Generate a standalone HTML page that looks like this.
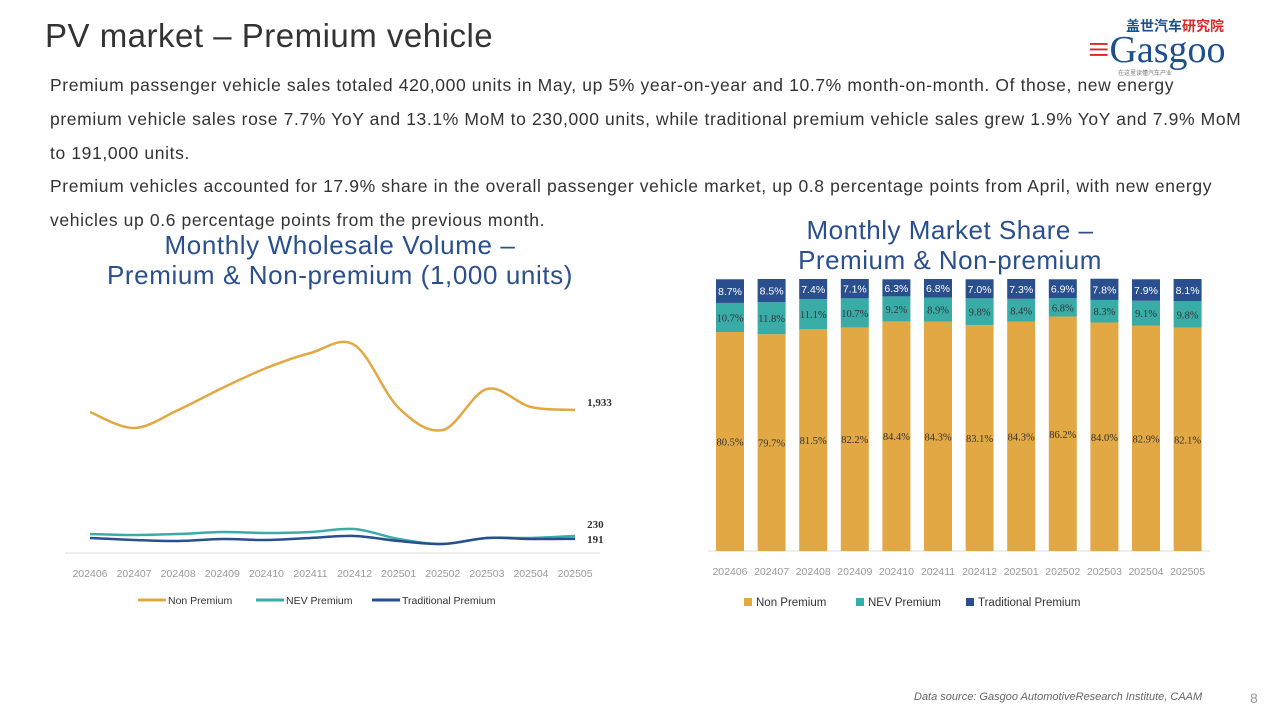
<!DOCTYPE html>
<html><head><meta charset="utf-8"><style>
body{margin:0;width:1280px;height:720px;background:#fff;font-family:"Liberation Sans","Noto Sans CJK SC",sans-serif;position:relative;overflow:hidden}
.abs{position:absolute}
</style></head><body>
<div class="abs" style="left:45px;top:17px;font-size:33px;color:#333;letter-spacing:0.5px">PV market – Premium vehicle</div>
<div class="abs" style="left:1088px;top:14px;width:150px;height:62px">
<div class="abs" style="left:38px;top:2px;font-size:14px;font-weight:bold;color:#1f4e8f">盖世汽车<span style="color:#d62a2a">研究院</span></div>
<div class="abs" style="left:0;top:14px;font-size:38px;color:#1f4e8f;font-family:'Liberation Serif',serif"><span style="color:#d62a2a">≡</span>Gasgoo</div>
<div class="abs" style="left:30px;top:54px;font-size:6px;color:#777">在这里读懂汽车产业</div>
</div>
<div class="abs" style="left:50px;top:69px;white-space:nowrap;font-size:17.5px;letter-spacing:0.62px;line-height:33.8px;color:#333">Premium passenger vehicle sales totaled 420,000 units in May, up 5% year-on-year and 10.7% month-on-month. Of those, new energy<br>premium vehicle sales rose 7.7% YoY and 13.1% MoM to 230,000 units, while traditional premium vehicle sales grew 1.9% YoY and 7.9% MoM<br>to 191,000 units.<br>Premium vehicles accounted for 17.9% share in the overall passenger vehicle market, up 0.8 percentage points from April, with new energy<br>vehicles up 0.6 percentage points from the previous month.</div>
<div class="abs" style="left:40px;top:230px;width:600px;text-align:center;font-size:26px;letter-spacing:0.6px;line-height:30px;color:#2a4f8f">Monthly Wholesale Volume –<br>Premium &amp; Non-premium (1,000 units)</div>
<div class="abs" style="left:700px;top:215px;width:500px;text-align:center;font-size:26px;letter-spacing:0.5px;line-height:30px;color:#2a4f8f">Monthly Market Share –<br>Premium &amp; Non-premium</div>
<svg id="chart" class="abs" style="left:0;top:0" width="1280" height="720"></svg>
<div class="abs" style="left:914px;top:691px;font-size:11px;font-style:italic;color:#666">Data source: Gasgoo AutomotiveResearch Institute, CAAM</div>
<div class="abs" style="left:1250px;top:690px;font-size:14px;color:#999">8</div>
<script>
const months=["202406","202407","202408","202409","202410","202411","202412","202501","202502","202503","202504","202505"];
const nonPremium=[1905,1689,1932,2230,2500,2703,2810,1960,1662,2216,1973,1933];
const nevPremium=[257,243,257,284,270,284,324,189,122,203,203,230];
const tradPremium=[203,176,162,189,176,203,230,162,122,203,189,191];
const shareNon=[80.5,79.7,81.5,82.2,84.4,84.3,83.1,84.3,86.2,84.0,82.9,82.1];
const shareNev=[10.7,11.8,11.1,10.7,9.2,8.9,9.8,8.4,6.8,8.3,9.1,9.8];
const shareTrad=[8.7,8.5,7.4,7.1,6.3,6.8,7.0,7.3,6.9,7.8,7.9,8.1];
const NS="http://www.w3.org/2000/svg",svg=document.getElementById('chart');
function mk(t,a,txt){const e=document.createElementNS(NS,t);for(const k in a)e.setAttribute(k,a[k]);if(txt!=null)e.textContent=txt;svg.appendChild(e);return e;}
const lx=i=>90+i*44.1, ly=v=>553-v*0.074;
let e=mk('line',{x1:65,x2:600,y1:553,y2:553,stroke:'#ddd'});

function smooth(vals){const p=vals.map((v,i)=>[lx(i),ly(v)]);let d='M'+p[0];for(let i=0;i<p.length-1;i++){const p0=p[i-1]||p[i],p1=p[i],p2=p[i+1],p3=p[i+2]||p2;d+=` C${p1[0]+(p2[0]-p0[0])/6},${p1[1]+(p2[1]-p0[1])/6} ${p2[0]-(p3[0]-p1[0])/6},${p2[1]-(p3[1]-p1[1])/6} ${p2[0]},${p2[1]}`;}return d;}
const series=[[nonPremium,'#e1a844','non-premium-line'],[nevPremium,'#3aaca8','nev-premium-line'],[tradPremium,'#2a4f8f','traditional-premium-line']];
series.forEach(s=>{e=mk('path',{d:smooth(s[0]),fill:'none',stroke:s[1],'stroke-width':2.5});});
[[nonPremium,-4,'label-non-premium-last'],[nevPremium,-8,'label-nev-last'],[tradPremium,4,'label-trad-last']].forEach(s=>{const v=s[0][11];e=mk('text',{x:lx(11)+12,y:ly(v)+s[1],'font-size':11,'font-weight':'bold','font-family':'Liberation Serif',fill:'#333'},v.toLocaleString('en-US'));});
months.forEach((m,i)=>{e=mk('text',{x:lx(i),y:577,'font-size':10.5,fill:'#999','text-anchor':'middle'},m);});
[['Non Premium','#e1a844',138],['NEV Premium','#3aaca8',256],['Traditional Premium','#2a4f8f',372]].forEach(l=>{e=mk('line',{x1:l[2],x2:l[2]+28,y1:600,y2:600,stroke:l[1],'stroke-width':3});e=mk('text',{x:l[2]+30,y:604,'font-size':10.5,fill:'#333'},l[0]);});
const bx=i=>730+i*41.6, bh=v=>v*2.72, base=551, bw=28;
e=mk('line',{x1:708,x2:1210,y1:551,y2:551,stroke:'#ddd'});

months.forEach((m,i)=>{let y=base;[[shareNon,'#e1a844','#333','bar-non-premium'],[shareNev,'#3aaca8','#333','bar-nev-premium'],[shareTrad,'#2a4f8f','#fff','bar-traditional-premium']].forEach((s,k)=>{const h=bh(s[0][i]);y-=h;e=mk('rect',{x:bx(i)-bw/2,y:y,width:bw,height:h,fill:s[1]});e=mk('text',{x:bx(i),y:y+h/2+4,'font-size':10.5,fill:s[2],'text-anchor':'middle','font-family':k==2?'Liberation Sans':'Liberation Serif'},s[0][i].toFixed(1)+'%');});
e=mk('text',{x:bx(i),y:575,'font-size':10.5,fill:'#999','text-anchor':'middle'},m);});
[['Non Premium','#e1a844',744],['NEV Premium','#3aaca8',856],['Traditional Premium','#2a4f8f',966]].forEach(l=>{e=mk('rect',{x:l[2],y:598,width:8,height:8,fill:l[1]});e=mk('text',{x:l[2]+12,y:606,'font-size':11.5,fill:'#333'},l[0]);});
</script>
</body></html>
